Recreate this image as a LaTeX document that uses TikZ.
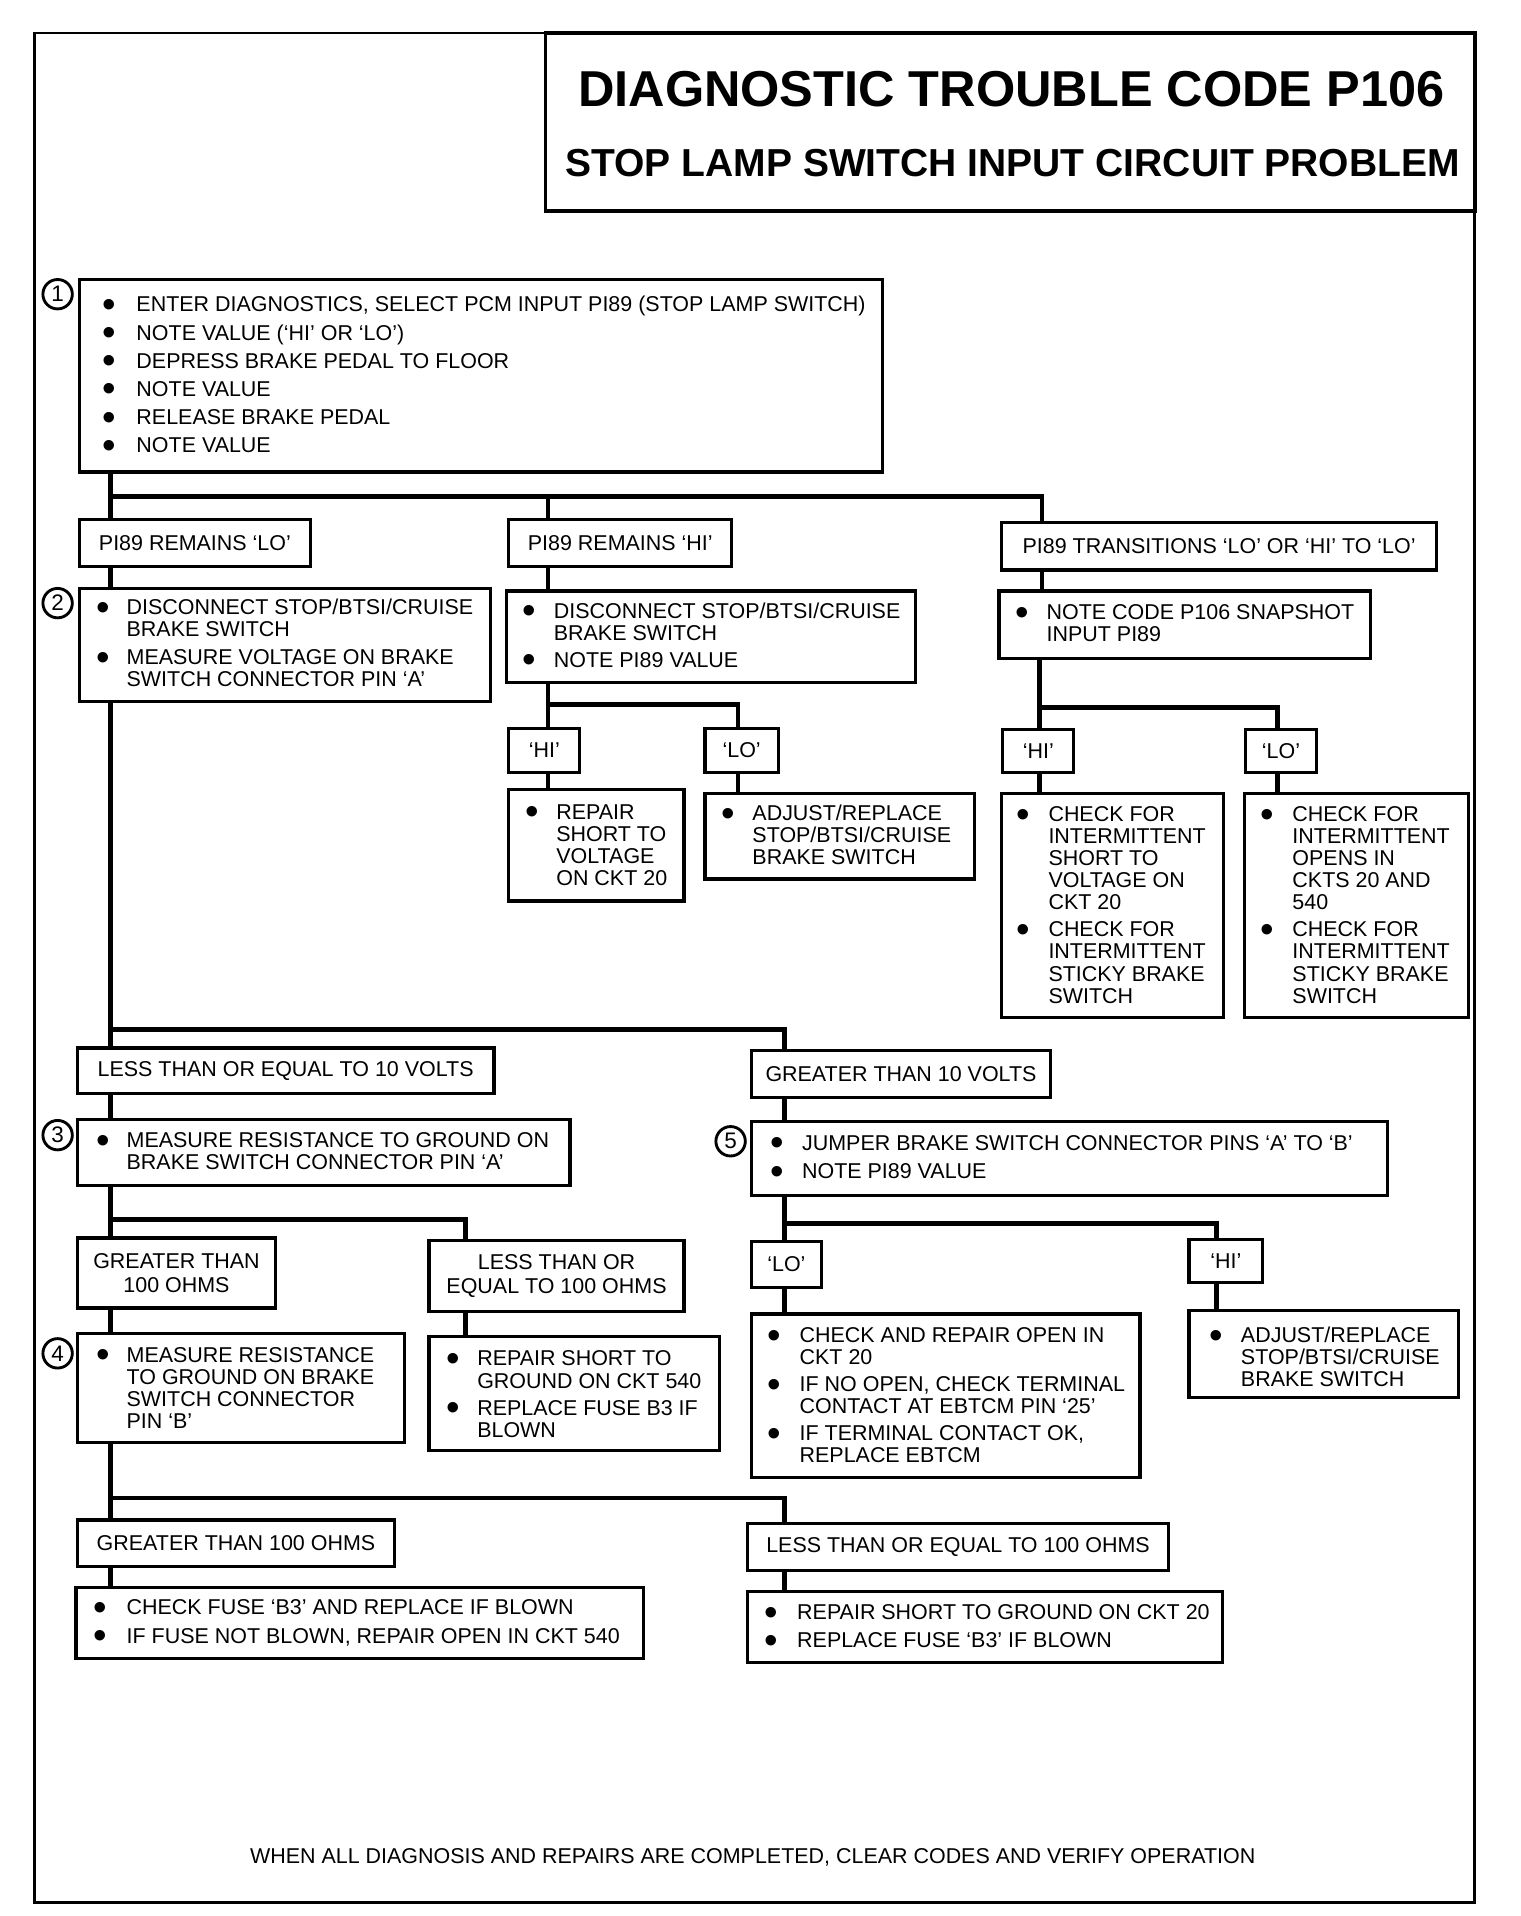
\documentclass[tikz,border=0pt]{standalone}
\usepackage{fontspec}
\setmainfont{Liberation Sans}
\usepackage{graphicx}
\usetikzlibrary{fit,backgrounds}
\newlength\pxu \setlength\pxu{0.6pt}
\newcommand\bul{\raisebox{-0.26em}{\scalebox{1.8}{•}}}
\newcommand\btx[5]{\node[btxt] (#1) at (#2-4,#3+6.3) {\begin{tabular}[t]{@{}p{#4\pxu}@{}l@{}}#5\end{tabular}};}
\begin{document}
\begin{tikzpicture}[x=0.6pt,y=-0.6pt,
  box/.style={draw,line width=1.6pt,inner sep=0pt,fill=white},
  lbl/.style={inner sep=0pt,font=\fontsize{10.5pt}{12pt}\selectfont,align=center},
  btxt/.style={anchor=base west,inner sep=0pt,font=\fontsize{10.5pt}{10.8pt}\selectfont},
  conn/.style={line width=2.4pt,line cap=rect},
  num/.style={circle,draw,line width=1.4pt,minimum size=14.4pt,inner sep=0pt,fill=white,font=\fontsize{11pt}{12pt}\selectfont},
  frame/.style={line width=1.3pt}]
\useasboundingbox (0,0) rectangle (1240,1563);
\draw[frame] (28,27) rectangle (1203,1552);
% title
\node[box,line width=1.8pt,fit={(445,27)(1203,172)}] (title) {};
\node[inner sep=0pt,font=\bfseries\fontsize{24.7pt}{26pt}\selectfont] (tl1) at (825,73) {DIAGNOSTIC TROUBLE CODE P106};
\node[inner sep=0pt,font=\bfseries\fontsize{19.1pt}{21pt}\selectfont] (tl2) at (826,133) {STOP LAMP SWITCH INPUT CIRCUIT PROBLEM};
% boxes
\node[box,fit={(65,228)(720,385)}] (b1) {};
\node[box,fit={(65,424)(253,462)}] (nlo) {};
\node[box,fit={(415,424)(597,462)}] (nhi) {};
\node[box,fit={(817,426)(1172,465)}] (ntr) {};
\node[box,fit={(65,480)(400,572)}] (b2) {};
\node[box,fit={(413,482)(747,557)}] (bhi) {};
\node[box,fit={(815,482)(1118,537)}] (bnote) {};
\node[box,fit={(415,594)(473,630)}] (nhi2) {};
\node[box,fit={(575,594)(635,630)}] (nlo2) {};
\node[box,fit={(415,644)(558,735)}] (brep) {};
\node[box,fit={(575,647)(795,717)}] (badj) {};
\node[box,fit={(818,595)(876,630)}] (nhi3) {};
\node[box,fit={(1016,595)(1074,630)}] (nlo3) {};
\node[box,fit={(817,647)(998,830)}] (bchkhi) {};
\node[box,fit={(1015,647)(1198,830)}] (bchklo) {};
\node[box,fit={(63,855)(403,892)}] (nle10) {};
\node[box,fit={(613,857)(857,895)}] (ngt10) {};
\node[box,fit={(63,913)(465,967)}] (b3) {};
\node[box,fit={(613,915)(1132,975)}] (b5) {};
\node[box,fit={(63,1010)(225,1067)}] (ngt100) {};
\node[box,fit={(350,1012)(558,1070)}] (nle100) {};
\node[box,fit={(63,1088)(330,1177)}] (b4) {};
\node[box,fit={(350,1090)(587,1183)}] (brep2) {};
\node[box,fit={(613,1013)(670,1050)}] (nlo5) {};
\node[box,fit={(970,1011)(1030,1046)}] (nhi5) {};
\node[box,fit={(613,1072)(930,1205)}] (bchk) {};
\node[box,fit={(970,1069)(1190,1140)}] (badj2) {};
\node[box,fit={(63,1240)(322,1278)}] (ngt100b) {};
\node[box,fit={(610,1243)(953,1281)}] (nle100b) {};
\node[box,fit={(62,1295)(525,1353)}] (bfuse) {};
\node[box,fit={(610,1298)(997,1356)}] (bshort) {};
% label texts
\node[lbl] (lnlo) at (nlo.center) {PI89 REMAINS ‘LO’};
\node[lbl] (lnhi) at (nhi.center) {PI89 REMAINS ‘HI’};
\node[lbl] (lntr) at (ntr.center) {PI89 TRANSITIONS ‘LO’ OR ‘HI’ TO ‘LO’};
\node[lbl] (lnhi2) at (nhi2.center) {‘HI’};
\node[lbl] (lnlo2) at (nlo2.center) {‘LO’};
\node[lbl] (lnhi3) at (nhi3.center) {‘HI’};
\node[lbl] (lnlo3) at (nlo3.center) {‘LO’};
\node[lbl] (lnle10) at (nle10.center) {LESS THAN OR EQUAL TO 10 VOLTS};
\node[lbl] (lngt10) at (ngt10.center) {GREATER THAN 10 VOLTS};
\node[lbl] (lngt100) at (ngt100.center) {GREATER THAN\\100 OHMS};
\node[lbl] (lnle100) at (nle100.center) {LESS THAN OR\\EQUAL TO 100 OHMS};
\node[lbl] (lnlo5) at (nlo5.center) {‘LO’};
\node[lbl] (lnhi5) at (nhi5.center) {‘HI’};
\node[lbl] (lngt100b) at (ngt100b.center) {GREATER THAN 100 OHMS};
\node[lbl] (lnle100b) at (nle100b.center) {LESS THAN OR EQUAL TO 100 OHMS};
% step numbers
\node[num] (c1) at (47,240) {1};
\node[num] (c2) at (47,492) {2};
\node[num] (c3) at (47,926) {3};
\node[num] (c4) at (47,1104) {4};
\node[num] (c5) at (596,931) {5};
% bullet texts
\btx{t1}{87}{248}{28}{\bul & ENTER DIAGNOSTICS, SELECT PCM INPUT PI89 (STOP LAMP SWITCH)\\[3pt]
\bul & NOTE VALUE (‘HI’ OR ‘LO’)\\[3pt]
\bul & DEPRESS BRAKE PEDAL TO FLOOR\\[3pt]
\bul & NOTE VALUE\\[3pt]
\bul & RELEASE BRAKE PEDAL\\[3pt]
\bul & NOTE VALUE}
\btx{t2}{82}{495}{25}{\bul & DISCONNECT STOP/BTSI/CRUISE\\ & BRAKE SWITCH\\[3pt] \bul & MEASURE VOLTAGE ON BRAKE\\ & SWITCH CONNECTOR PIN ‘A’}
\btx{thi}{430}{498}{25.5}{\bul & DISCONNECT STOP/BTSI/CRUISE\\ & BRAKE SWITCH\\[2.4pt] \bul & NOTE PI89 VALUE}
\btx{tnote}{832}{499}{25.5}{\bul & NOTE CODE P106 SNAPSHOT\\ & INPUT PI89}
\btx{trep}{432}{662}{25.5}{\bul & REPAIR\\ & SHORT TO\\ & VOLTAGE\\ & ON CKT 20}
\btx{tadj}{592}{663}{25.5}{\bul & ADJUST/REPLACE\\ & STOP/BTSI/CRUISE\\ & BRAKE SWITCH}
\btx{tchkhi}{833}{664}{26}{\bul & CHECK FOR\\ & INTERMITTENT\\ & SHORT TO\\ & VOLTAGE ON\\ & CKT 20\\[2.4pt] \bul & CHECK FOR\\ & INTERMITTENT\\ & STICKY BRAKE\\ & SWITCH}
\btx{tchklo}{1032}{664}{26}{\bul & CHECK FOR\\ & INTERMITTENT\\ & OPENS IN\\ & CKTS 20 AND\\ & 540\\[2.4pt] \bul & CHECK FOR\\ & INTERMITTENT\\ & STICKY BRAKE\\ & SWITCH}
\btx{t3}{82}{930}{25}{\bul & MEASURE RESISTANCE TO GROUND ON\\ & BRAKE SWITCH CONNECTOR PIN ‘A’}
\btx{t5}{632}{932}{26}{\bul & JUMPER BRAKE SWITCH CONNECTOR PINS ‘A’ TO ‘B’\\[3pt] \bul & NOTE PI89 VALUE}
\btx{t4}{82}{1105}{25}{\bul & MEASURE RESISTANCE\\ & TO GROUND ON BRAKE\\ & SWITCH CONNECTOR\\ & PIN ‘B’}
\btx{trep2}{368}{1108}{25}{\bul & REPAIR SHORT TO\\ & GROUND ON CKT 540\\[2.4pt] \bul & REPLACE FUSE B3 IF\\ & BLOWN}
\btx{tchk}{630}{1089}{26}{\bul & CHECK AND REPAIR OPEN IN\\ & CKT 20\\[2.4pt] \bul & IF NO OPEN, CHECK TERMINAL\\ & CONTACT AT EBTCM PIN ‘25’\\[2.4pt] \bul & IF TERMINAL CONTACT OK,\\ & REPLACE EBTCM}
\btx{tadj2}{990}{1089}{26}{\bul & ADJUST/REPLACE\\ & STOP/BTSI/CRUISE\\ & BRAKE SWITCH}
\btx{tfuse}{80}{1311}{27}{\bul & CHECK FUSE ‘B3’ AND REPLACE IF BLOWN\\[3pt] \bul & IF FUSE NOT BLOWN, REPAIR OPEN IN CKT 540}
\btx{tshort}{627}{1315}{27}{\bul & REPAIR SHORT TO GROUND ON CKT 20\\[3pt] \bul & REPLACE FUSE ‘B3’ IF BLOWN}
\node[lbl] (foot) at (614,1515) {WHEN ALL DIAGNOSIS AND REPAIRS ARE COMPLETED, CLEAR CODES AND VERIFY OPERATION};
% connectors
\coordinate (a0) at (90,405); \coordinate (a1) at (447,405); \coordinate (a2) at (850,405);
\coordinate (c0) at (447,575); \coordinate (c1) at (602,575);
\coordinate (e0) at (848,577); \coordinate (e1) at (1042,577);
\coordinate (d0) at (90,840); \coordinate (d1) at (640,840);
\coordinate (f0) at (90,995); \coordinate (f1) at (380,995);
\coordinate (g0) at (640,998); \coordinate (g1) at (992,998);
\coordinate (h0) at (90,1222); \coordinate (h1) at (640,1222);
\begin{scope}[on background layer]
\begin{scope}[conn]
\draw[conn] (b1.south -| a0) -- (a0 |- nlo.north);
\draw[conn] (a0) -- (a2) -- (a2 |- ntr.north);
\draw[conn] (a1) -- (a1 |- nhi.north);
\draw[conn] (nlo.south -| a0) -- (a0 |- b2.north);
\draw[conn] (nhi.south -| a1) -- (a1 |- bhi.north);
\draw[conn] (ntr.south -| a2) -- (a2 |- bnote.north);
\draw[conn] (bhi.south -| c0) -- (c0 |- nhi2.north);
\draw[conn] (c0) -- (c1) -- (c1 |- nlo2.north);
\draw[conn] (nhi2.south -| c0) -- (c0 |- brep.north);
\draw[conn] (nlo2.south -| c1) -- (c1 |- badj.north);
\draw[conn] (bnote.south -| e0) -- (e0 |- nhi3.north);
\draw[conn] (e0) -- (e1) -- (e1 |- nlo3.north);
\draw[conn] (nhi3.south -| e0) -- (e0 |- bchkhi.north);
\draw[conn] (nlo3.south -| e1) -- (e1 |- bchklo.north);
\draw[conn] (b2.south -| d0) -- (d0 |- nle10.north);
\draw[conn] (d0) -- (d1) -- (d1 |- ngt10.north);
\draw[conn] (nle10.south -| d0) -- (d0 |- b3.north);
\draw[conn] (ngt10.south -| d1) -- (d1 |- b5.north);
\draw[conn] (b3.south -| f0) -- (f0 |- ngt100.north);
\draw[conn] (f0) -- (f1) -- (f1 |- nle100.north);
\draw[conn] (ngt100.south -| f0) -- (f0 |- b4.north);
\draw[conn] (nle100.south -| f1) -- (f1 |- brep2.north);
\draw[conn] (b5.south -| g0) -- (g0 |- nlo5.north);
\draw[conn] (g0) -- (g1) -- (g1 |- nhi5.north);
\draw[conn] (nlo5.south -| g0) -- (g0 |- bchk.north);
\draw[conn] (nhi5.south -| g1) -- (g1 |- badj2.north);
\draw[conn] (b4.south -| h0) -- (h0 |- ngt100b.north);
\draw[conn] (h0) -- (h1) -- (h1 |- nle100b.north);
\draw[conn] (ngt100b.south -| h0) -- (h0 |- bfuse.north);
\draw[conn] (nle100b.south -| h1) -- (h1 |- bshort.north);
\end{scope}
\end{scope}
\end{tikzpicture}
\end{document}
